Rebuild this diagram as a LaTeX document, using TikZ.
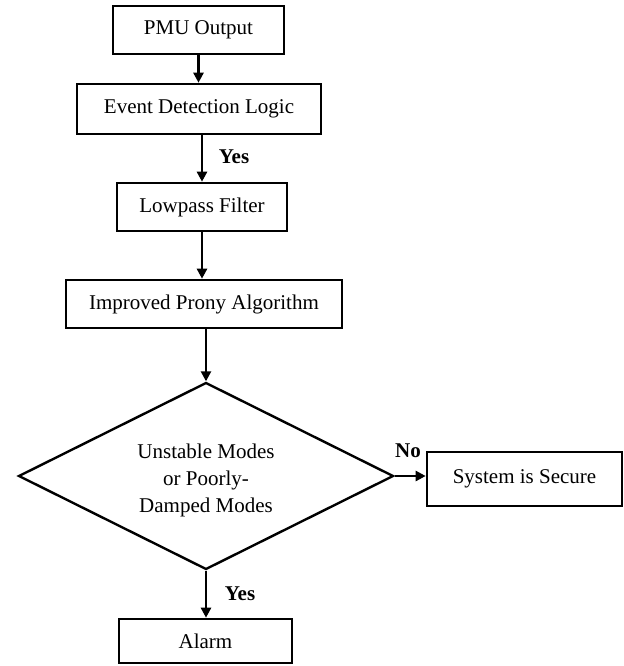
\documentclass[tikz,border=0pt]{standalone}
\usepackage{fontspec}
\setmainfont{Liberation Serif}
\usetikzlibrary{shapes.geometric,arrows.meta}
\begin{document}
\begin{tikzpicture}[x=0.5pt,y=-0.5pt,
  every node/.style={font=\fontsize{10.5}{13.5}\selectfont},
  procbox/.style={draw,line width=1.3pt,rectangle,inner sep=0pt},
  decision/.style={draw,line width=1.2pt,diamond,inner sep=0pt},
  flow/.style={line width=1.2pt,-{Triangle[length=5pt,width=5pt]}},
  answer/.style={font=\fontsize{10.5}{13.5}\selectfont\bfseries}]
  \useasboundingbox (0,0) rectangle (624,666);

  \node[procbox,minimum width=85.5pt,minimum height=24pt] (pmu) at (198.5,30) {PMU Output};
  \node[procbox,minimum width=122pt,minimum height=25pt] (event) at (199,109) {Event Detection Logic};
  \node[procbox,minimum width=85pt,minimum height=24pt] (lowpass) at (202,207) {Lowpass Filter};
  \node[procbox,minimum width=138pt,minimum height=24pt] (prony) at (204,304) {Improved Prony Algorithm};
  % decision diamond, its label set separately so the outline keeps a 2:1 shape
  \node[decision,minimum width=187.5pt,minimum height=93.5pt] (modes) at (206,476) {};
  \node[align=center] (modestext) at (206,480) {Unstable Modes\\or Poorly-\\Damped Modes};
  \node[procbox,minimum width=97.5pt,minimum height=27pt] (secure) at (524.5,479) {System is Secure};
  \node[procbox,minimum width=86.5pt,minimum height=22pt] (alarm) at (205.5,641) {Alarm};

  \draw[flow] (pmu.south) -- (pmu.south |- event.north);
  \draw[flow] (lowpass.north |- event.south) -- (lowpass.north);
  \draw[flow] (lowpass.south) -- (lowpass.south |- prony.north);
  \draw[flow] (modes.north |- prony.south) -- (modes.north);
  \draw[flow] (modes.south) -- (modes.south |- alarm.north);
  \draw[flow] (modes.east) -- (modes.east -| secure.west);

  \node[answer] (yes1) at (234,157) {Yes};
  \node[answer] (yes2) at (240,594) {Yes};
  \node[answer] (no) at (408,451) {No};
\end{tikzpicture}
\end{document}
